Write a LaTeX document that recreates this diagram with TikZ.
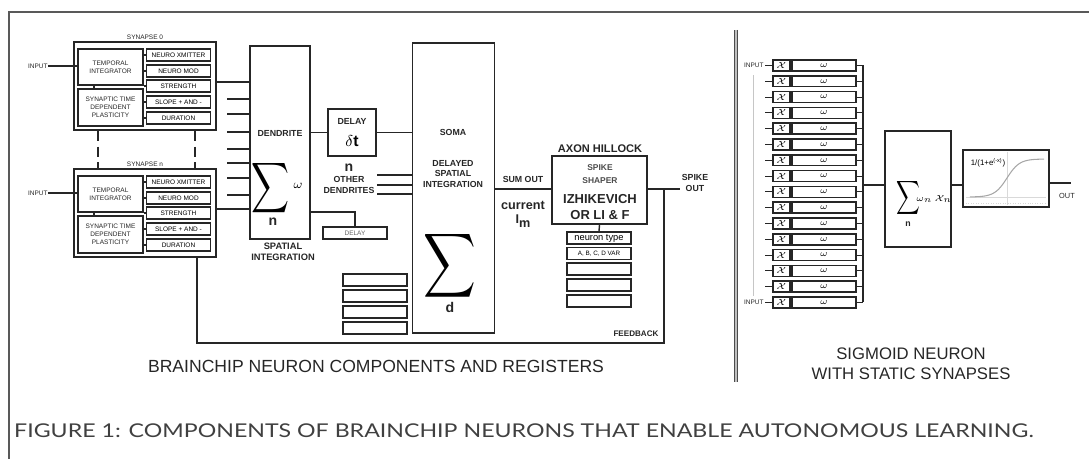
\documentclass[tikz,border=0pt]{standalone}
\usepackage{fontspec}
\setmainfont{Liberation Sans}
\newfontfamily\capfont{Lato}[FakeStretch=1.22]
\usetikzlibrary{calc}

\begin{document}
\begin{tikzpicture}[
    x=0.02cm, y=-0.02cm,
    box/.style={draw=black!85, line width=1pt, inner sep=0pt},
    reg/.style={box, line width=0.9pt, minimum width=1.28cm, minimum height=0.24cm, font=\fontsize{3.7}{4}\selectfont},
    lbl/.style={font=\bfseries\fontsize{5}{6}\selectfont, align=center, inner sep=0pt, text=black!85},
    tiny/.style={font=\fontsize{3.7}{4.5}\selectfont, align=center, inner sep=0pt, text=black!85},
    wire/.style={draw=black!85, line width=0.8pt}
]
\useasboundingbox (0,0) rectangle (1089,459);

% Frame
\draw[gray!70!black, line width=0.7pt] (9,459) -- (9,12) -- (1089,12);

% Dendrite
\node[box, minimum width=1.2cm, minimum height=3.86cm] (dend) at (280,142.5) {};
\node[lbl] (dendl) at (280,133) {DENDRITE};
\node[inner sep=0pt] (dsum) at (271,188) {\scalebox{1.5}[2]{$\displaystyle\sum$}};
\node (dw) at (298,186) {\fontsize{7}{7}\selectfont$\omega$};
\node[lbl, font=\bfseries\fontsize{8}{8}\selectfont] (dn) at (273,222) {n};
\node[lbl, font=\bfseries\fontsize{5.3}{6}\selectfont] (spat) at (283,252) {SPATIAL\\INTEGRATION};
\foreach \y in {99,114,132,149,163,178,195}
    \draw[wire] (dend.west |- 0,\y) -- ++(-22,0);

% Soma
\node[box, minimum width=1.64cm, minimum height=5.8cm] (soma) at (453.5,188) {};
\node[lbl] (somal) at (453,132) {SOMA};
\node[lbl] (dsi) at (453,174) {DELAYED\\SPATIAL\\INTEGRATION};
\node[inner sep=0pt] (ssum) at (450,266) {\scalebox{2.08}[2.55]{$\displaystyle\sum$}};
\node[lbl, font=\bfseries\fontsize{8}{8}\selectfont] (sd) at (450,307) {d};

% Axon hillock
\node[box, minimum width=1.9cm, minimum height=1.36cm] (axon) at (599.5,190) {};
\node[lbl, font=\bfseries\fontsize{6.3}{7}\selectfont] (axl) at (600,149) {AXON HILLOCK};
\node[lbl, font=\bfseries\fontsize{4.8}{7.3}\selectfont, text=black!70] (ss) at (600,174.5) {SPIKE\\SHAPER};
\node[lbl, font=\bfseries\fontsize{7.4}{9}\selectfont] (izh) at (600,207) {IZHIKEVICH\\OR LI \& F};
\node[reg, font=\fontsize{5.3}{6}\selectfont] (ar1) at (599,238) {neuron type};
\node[reg, font=\fontsize{3.6}{4}\selectfont] (ar2) at (599,253.5) {A, B, C, D VAR};
\foreach \y [count=\i from 3] in {269,285,301}
    \node[reg] (ar\i) at (599,\y) {};
\draw[wire] (axon.south) -- (ar1.north);

% Synapses
\foreach \s/\dy in {0/0,n/127} {
    \node[box, minimum width=2.84cm, minimum height=1.76cm] (syn\s) at (145,86+\dy) {};
    \node[tiny] (sl\s) at (145,37+\dy) {SYNAPSE \s};
    \node[box, tiny, minimum width=1.3cm, minimum height=0.72cm] (ti\s) at (110.5,67+\dy) {TEMPORAL\\INTEGRATOR};
    \node[box, tiny, minimum width=1.3cm, minimum height=0.74cm] (st\s) at (110.5,107.5+\dy) {SYNAPTIC TIME\\DEPENDENT\\PLASTICITY};
    \foreach \t/\y [count=\k] in {NEURO XMITTER/55,NEURO MOD/71,STRENGTH/86,SLOPE + AND -/102,DURATION/118} {
        \node[reg] (sb\s\k) at (178.5,\y+\dy) {\t};
        \draw[wire] (sb\s\k.west) -- (sb\s\k.west -| ti\s.east);
    }
    \draw[wire] ([xshift=-0.33cm]ti\s.south) -- ([xshift=-0.33cm]st\s.north);
    \node[tiny, anchor=east] (in\s) at (48,66+\dy) {INPUT};
    \draw[wire] (in\s.east) -- (in\s.east -| ti\s.west);
    \draw[wire] ([yshift=0.08cm]syn\s.east) -- ([yshift=0.08cm]syn\s.east -| dend.west);
}
\draw[wire, dash pattern=on 6pt off 3pt] ([xshift=-0.94cm]syn0.south) -- ([xshift=-0.94cm]synn.north);
\draw[wire, dash pattern=on 6pt off 3pt] ([xshift=1cm]syn0.south) -- ([xshift=1cm]synn.north);

% Delay
\node[box, minimum width=0.96cm, minimum height=0.94cm] (delay) at (352,132.5) {};
\node[lbl] (delayl) at (352,121) {DELAY};
\node[font=\fontsize{9}{9}\selectfont] (dt) at (352,141) {$\delta$\textbf{t}};
\draw[wire] (delay.west -| dend.east) -- (delay.west);
\draw[wire] (delay.east) -- (delay.east -| soma.west);
\node[reg, text=black!60] (dly) at (355,233) {DELAY};
\draw[wire] (dend.east |- 0,212) -| (dly.north);

% Other dendrites
\node[lbl, font=\bfseries\fontsize{8}{8}\selectfont] (othn) at (349,168) {n};
\node[lbl] (oth) at (349,185) {OTHER\\DENDRITES};
\foreach \y in {175,185,194}
    \draw[wire] (soma.west |- 0,\y) -- ++(-35,0);

% Registers
\foreach \y [count=\i] in {280,296,312,328}
    \node[reg] (r\i) at (375,\y) {};

% Sum out, spike out, feedback
\draw[wire] (soma.east |- 0,189) -- (axon.west |- 0,189);
\node[lbl] (sumout) at (523,179) {SUM OUT};
\node[lbl, font=\bfseries\fontsize{7.2}{8}\selectfont] (cur) at (523,205) {current};
\node[lbl, font=\bfseries\fontsize{7.2}{8}\selectfont] (im) at (523,221) {I\raisebox{-0.5ex}{m}};
\coordinate (spk) at (680,189);
\draw[wire] (axon.east |- spk) -- (spk);
\node[lbl] (spkl) at (695,183) {SPIKE\\OUT};
\coordinate (fb) at (664,343);
\draw[wire] ([xshift=1.04cm]synn.south) |- (fb) -- (fb |- spk);
\node[lbl, font=\bfseries\fontsize{4.6}{5}\selectfont] (fbl) at (636,334) {FEEDBACK};

\node[font=\fontsize{10}{12}\selectfont, text=black!85] (t1) at (376,366) {BRAINCHIP NEURON COMPONENTS AND REGISTERS};

% Divider
\draw[draw=black!70, double=gray!50, double distance=0.05cm, line width=0.45pt] (736,30) -- (736,382);

% Sigmoid neuron
\coordinate (bus) at (863,65.5);
\foreach \i in {0,...,15} {
    \node[box, line width=0.8pt, minimum width=0.34cm, minimum height=0.22cm] (x\i) at (781.5,65.5+15.8*\i) {\fontsize{5}{5}\selectfont$\mathcal{X}$};
    \node[box, line width=0.8pt, minimum width=1.28cm, minimum height=0.22cm] (w\i) at (824,65.5+15.8*\i) {\fontsize{5}{5}\selectfont$\omega$};
    \draw[wire, line width=0.6pt] (x\i.west) -- ++(-7,0);
    \draw[wire, line width=0.6pt] (w\i.east) -- (w\i.east -| bus);
}
\draw[wire, line width=0.6pt] (w0.east -| bus) -- (w15.east -| bus);
\node[tiny, anchor=east] (inA) at (764,65.5) {INPUT};
\node[tiny, anchor=east] (inB) at (764,302.5) {INPUT};
\draw[gray!45, line width=0.6pt] ([yshift=-0.14cm]inA.south) -- ([yshift=0.08cm]inB.north);

\node[box, minimum width=1.32cm, minimum height=2.32cm] (sum) at (918,189) {};
\node[inner sep=0pt] (rsum) at (908,198) {\scalebox{0.94}[1.34]{$\displaystyle\sum$}};
\node (rw) at (934,199) {\fontsize{4.5}{5}\selectfont$\omega_n\,\mathcal{X}_n$};
\node[lbl] (rn) at (908,224) {n};
\draw[wire] (bus |- 0,185) -- (sum.west |- 0,185);

\node[box, minimum width=1.72cm, minimum height=1.14cm] (sig) at (1006,178.5) {};
\draw[wire] (sum.east |- 0,185) -- (sig.west |- 0,185);
\draw[gray!30] (966,197) -- (1046,197);
\draw[gray!30, densely dotted] (966,203) -- (1046,203);
\draw[gray!30] (1007,152) -- (1007,205);
\draw[gray!70, line width=0.6pt, domain=-6:6, samples=40, smooth] plot ({1007+6.2*\x}, {197-38/(1+exp(-\x))});
\node[font=\fontsize{4.5}{5}\selectfont] (sf) at (988,163) {1/(1+e\textsuperscript{(-x)})};
\coordinate (out) at (1071,183);
\draw[wire] (sig.east |- out) -- (out);
\node[tiny, font=\fontsize{4.2}{5}\selectfont] (outl) at (1067,196) {OUT};

\node[font=\fontsize{9.5}{11.3}\selectfont, align=center, text=black!85] (t2) at (911,364) {SIGMOID NEURON\\WITH STATIC SYNAPSES};

% Caption
\node[anchor=west, font=\capfont\fontsize{10.8}{12}\selectfont, text=black!75] (cap) at (8,431) {FIGURE 1: COMPONENTS OF BRAINCHIP NEURONS THAT ENABLE AUTONOMOUS LEARNING.};

\end{tikzpicture}
\end{document}
